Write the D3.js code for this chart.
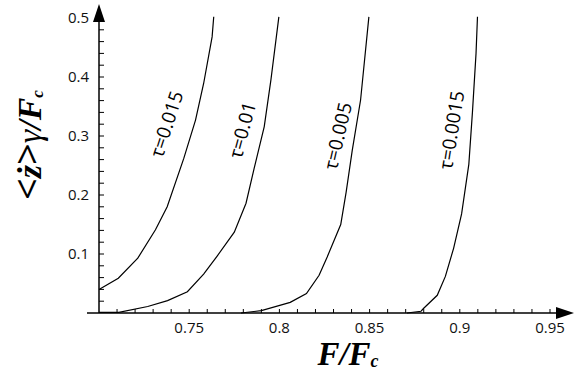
<!DOCTYPE html>
<html><head><meta charset="utf-8">
<script src="https://cdn.jsdelivr.net/npm/d3@7"></script>
<style>body{margin:0;background:#fff}svg{display:block}</style>
</head><body>
<svg id="c" width="585" height="372"></svg>
<script>
// Data: [F/Fc, <ż>γ/Fc]
const tau0015 = [[0.700,0.040],[0.7107,0.059],[0.7215,0.093],[0.7313,0.141],[0.7378,0.180],[0.747,0.262],[0.7535,0.327],[0.758,0.389],[0.7627,0.468],[0.7636,0.502]];
const tau001 = [[0.700,0.001],[0.711,0.001],[0.727,0.011],[0.738,0.021],[0.749,0.036],[0.758,0.066],[0.7656,0.097],[0.775,0.137],[0.7815,0.186],[0.786,0.245],[0.7916,0.316],[0.7953,0.395],[0.7997,0.502]];
const tau0005 = [[0.7787,0.000],[0.790,0.004],[0.806,0.018],[0.8150,0.033],[0.8220,0.064],[0.8265,0.095],[0.834,0.150],[0.8370,0.205],[0.8404,0.276],[0.845,0.361],[0.8496,0.502]];
const tau00015 = [[0.8707,0.000],[0.8785,0.003],[0.880,0.008],[0.8875,0.030],[0.892,0.062],[0.8966,0.110],[0.901,0.168],[0.905,0.252],[0.907,0.340],[0.909,0.440],[0.9098,0.502]];
const seriesData = [tau0015, tau001, tau0005, tau00015];
const seriesLabels = ["τ=0.015","τ=0.01","τ=0.005","τ=0.0015"];
const labelPos = [[0.7375,0.32],[0.7795,0.31],[0.8325,0.30],[0.8955,0.31]];
const labelAngle = [-72,-75,-77,-81];
const xTicks = [0.75,0.8,0.85,0.9,0.95];
const xTickLabels = ["0.75","0.8","0.85","0.9","0.95"];
const yTicks = [0.1,0.2,0.3,0.4,0.5];
const yTickLabels = ["0.1","0.2","0.3","0.4","0.5"];

const svg = d3.select("#c");
const x = d3.scaleLinear().domain([0.7,0.95]).range([99,550]);
const y = d3.scaleLinear().domain([0,0.5]).range([313,18]);

// minor ticks
const xMinor = d3.range(0.71,0.955,0.01);
const yMinor = d3.range(0.02,0.5,0.02);
const g = svg.append("g");
g.selectAll("line.xm").data(xMinor).join("line")
  .attr("x1",d=>x(d)).attr("x2",d=>x(d)).attr("y1",313).attr("y2",309)
  .attr("stroke","#000").attr("stroke-width",1);
g.selectAll("line.ym").data(yMinor).join("line")
  .attr("x1",99).attr("x2",104).attr("y1",d=>y(d)).attr("y2",d=>y(d))
  .attr("stroke","#000").attr("stroke-width",1);

// axes lines
g.append("line").attr("x1",87).attr("x2",560).attr("y1",313).attr("y2",313).attr("stroke","#000").attr("stroke-width",1.5);
g.append("line").attr("x1",99).attr("x2",99).attr("y1",313).attr("y2",18).attr("stroke","#000").attr("stroke-width",1.5);
g.append("path").attr("d","M556,307 L574,313 L556,319 Z").attr("fill","#000");
g.append("path").attr("d","M93,22 L99,4 L105,22 Z").attr("fill","#000");

// tick labels
g.selectAll("text.xt").data(xTicks).join("text")
  .attr("x",d=>x(d)).attr("y",333).attr("text-anchor","middle")
  .attr("font-family","'Open Sans',sans-serif").attr("font-size",15).attr("fill","#111")
  .text((d,i)=>xTickLabels[i]);
g.selectAll("text.yt").data(yTicks).join("text")
  .attr("x",89).attr("y",d=>y(d)+5).attr("text-anchor","end")
  .attr("font-family","'Open Sans',sans-serif").attr("font-size",15).attr("fill","#111")
  .text((d,i)=>yTickLabels[i]);

// curves
const line = d3.line().x(d=>x(d[0])).y(d=>y(d[1]));
g.selectAll("path.s").data(seriesData).join("path")
  .attr("d",line).attr("fill","none").attr("stroke","#000").attr("stroke-width",1.2);

// labels
g.selectAll("text.lab").data(seriesLabels).join("text")
  .attr("transform",(d,i)=>`translate(${x(labelPos[i][0])},${y(labelPos[i][1])}) rotate(${labelAngle[i]})`)
  .attr("text-anchor","middle").attr("dy","0.35em")
  .attr("font-family","'Open Sans',sans-serif").attr("font-size",19).attr("fill","#000")
  .text(d=>d);

// axis titles
const xt = svg.append("text").attr("x",348).attr("y",365).attr("text-anchor","middle")
  .attr("font-family","'Liberation Serif','DejaVu Serif',serif").attr("font-weight","bold").attr("font-style","italic").attr("font-size",33);
xt.append("tspan").text("F/F");
xt.append("tspan").attr("font-size",18).attr("dy",2).text("c");

const yt = svg.append("text").attr("transform","translate(41,145) rotate(-90)").attr("text-anchor","middle")
  .attr("font-family","'Liberation Serif','DejaVu Serif',serif").attr("font-weight","bold").attr("font-size",34);
yt.append("tspan").attr("font-family","'Open Sans',sans-serif").attr("font-weight","normal").attr("font-size",38).text("<");
yt.append("tspan").attr("font-style","italic").text("ż");
yt.append("tspan").attr("font-family","'Open Sans',sans-serif").attr("font-weight","normal").attr("font-size",38).text(">");
yt.append("tspan").attr("font-style","italic").attr("font-weight","normal").text("γ");
yt.append("tspan").attr("font-style","italic").text("/F");
yt.append("tspan").attr("font-style","italic").attr("font-size",17).attr("dy",2).text("c");
</script>
</body></html>
